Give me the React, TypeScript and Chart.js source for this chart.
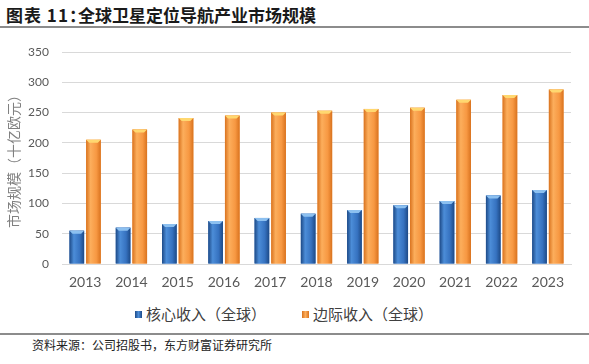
import React, { useEffect, useRef } from "react";
import { Chart, registerables } from "chart.js";

Chart.register(...registerables);

const years = ["2013", "2014", "2015", "2016", "2017", "2018", "2019", "2020", "2021", "2022", "2023"];
const coreRevenue = [55, 60, 66, 71, 76, 83, 89, 97, 104, 113, 122];
const marginalRevenue = [205, 222, 241, 245, 250, 253, 256, 258, 271, 279, 288];
const yTickValues = [0, 50, 100, 150, 200, 250, 300, 350];
const seriesNames = ["核心收入（全球）", "边际收入（全球）"];
const titlePrefix = "图表 11";
const titleColon = "：";
const titleMain = "全球卫星定位导航产业市场规模";
const yAxisTitle = "市场规模（十亿欧元）";
const sourceText = "资料来源：公司招股书，东方财富证券研究所";

const palettes = [
  { edge: "#1d4a87", light: "#4c8dd8", mid: "#3672c0", top: "#8cc0f0", base: "#3672c0" },
  { edge: "#d9731f", light: "#fcae5c", mid: "#f79842", top: "#ffd870", base: "#f79842" },
];

const shadePlugin = {
  id: "barShade",
  afterDatasetsDraw(chart: any) {
    const ctx = chart.ctx;
    ctx.save();
    chart.data.datasets.forEach((_ds: any, di: number) => {
      const meta = chart.getDatasetMeta(di);
      const pal = palettes[di];
      meta.data.forEach((el: any) => {
        const { x, y, width, base } = el.getProps(["x", "y", "width", "base"], true);
        const l = x - width / 2;
        const g = ctx.createLinearGradient(l, 0, l + width, 0);
        g.addColorStop(0, pal.edge);
        g.addColorStop(0.3, pal.light);
        g.addColorStop(0.7, pal.mid);
        g.addColorStop(1, pal.edge);
        ctx.fillStyle = g;
        ctx.fillRect(l, y, width, base - y);
        ctx.fillStyle = pal.top;
        ctx.beginPath();
        ctx.moveTo(l, y);
        ctx.lineTo(l + width, y);
        ctx.lineTo(l + width - 3, y + 3);
        ctx.lineTo(l + 3, y + 3);
        ctx.closePath();
        ctx.fill();
      });
    });
    ctx.restore();
  },
};

function LegendItem({ color, label, left }: { color: string; label: string; left: number }) {
  return (
    <div style={{ position: "absolute", left, top: 303, height: 20, display: "flex", alignItems: "center" }}>
      <div style={{ width: 7, height: 7, background: color, marginRight: 4, marginTop: 3 }} />
      <span style={{ fontFamily: '"Noto Sans CJK SC", sans-serif', fontSize: 15, color: "#404040", whiteSpace: "nowrap" }}>{label}</span>
    </div>
  );
}

export default function App() {
  const canvasRef = useRef<HTMLCanvasElement | null>(null);

  useEffect(() => {
    if (!canvasRef.current) return;
    const chart = new Chart(canvasRef.current, {
      type: "bar",
      data: {
        labels: years,
        datasets: [
          { label: seriesNames[0], data: coreRevenue, backgroundColor: palettes[0].base, categoryPercentage: 0.72, barPercentage: 0.88 },
          { label: seriesNames[1], data: marginalRevenue, backgroundColor: palettes[1].base, categoryPercentage: 0.72, barPercentage: 0.88 },
        ],
      },
      options: {
        responsive: false,
        animation: false,
        devicePixelRatio: 1,
        layout: { padding: { top: 22, right: 18, bottom: 0, left: 0 } },
        plugins: { legend: { display: false }, tooltip: { enabled: false }, title: { display: false } },
        scales: {
          x: {
            grid: { display: false, drawTicks: false },
            border: { display: true, color: "#d9d9d9", width: 1 },
            ticks: { color: "#595959", font: { family: "Lato", size: 14 }, padding: 10, maxRotation: 0 },
            afterFit: (s: any) => { s.height = 36; },
          },
          y: {
            min: 0,
            max: 350,
            afterBuildTicks: (s: any) => { s.ticks = yTickValues.map((v) => ({ value: v })); },
            grid: { color: "#d9d9d9", lineWidth: 1, drawTicks: false },
            border: { display: false },
            ticks: { color: "#595959", font: { family: "Lato", size: 12 }, padding: 13 },
            title: { display: true, text: yAxisTitle, color: "#808080", font: { family: '"Noto Sans CJK SC"', size: 14 }, padding: { top: 5, bottom: 0 } },
            afterFit: (s: any) => { s.width = 62; },
          },
        },
      },
      plugins: [shadePlugin],
    });
    return () => chart.destroy();
  }, []);

  return (
    <div style={{ position: "fixed", left: 0, top: 0, width: 589, height: 364, background: "#fff", overflow: "hidden" }}>
      <div style={{ position: "absolute", left: 6, top: 3, fontFamily: '"Noto Sans CJK SC", sans-serif', fontWeight: 700, fontSize: 17, color: "#1a1a1a", whiteSpace: "nowrap", lineHeight: "24px", display: "flex" }}>
        <span style={{ letterSpacing: 1 }}>{titlePrefix}</span>
        <span style={{ display: "inline-block", width: 9, overflow: "visible" }}>{titleColon}</span>
        <span>{titleMain}</span>
      </div>
      <div style={{ position: "absolute", left: 0, top: 26, width: 589, height: 2, background: "#8c8c8c" }} />
      <canvas ref={canvasRef} width={589} height={270} style={{ position: "absolute", left: 0, top: 30, width: 589, height: 270 }} />
      <LegendItem color="linear-gradient(90deg,#1d4a87,#4c8dd8,#1d4a87)" label={seriesNames[0]} left={135} />
      <LegendItem color="linear-gradient(90deg,#d9731f,#fcae5c,#d9731f)" label={seriesNames[1]} left={302} />
      <div style={{ position: "absolute", left: 0, top: 333, width: 589, height: 2, background: "#8c8c8c" }} />
      <div style={{ position: "absolute", left: 32, top: 337, fontFamily: '"Noto Sans CJK SC", sans-serif', fontSize: 12, color: "#222", whiteSpace: "nowrap", lineHeight: "16px" }}>
        {sourceText}
      </div>
    </div>
  );
}
